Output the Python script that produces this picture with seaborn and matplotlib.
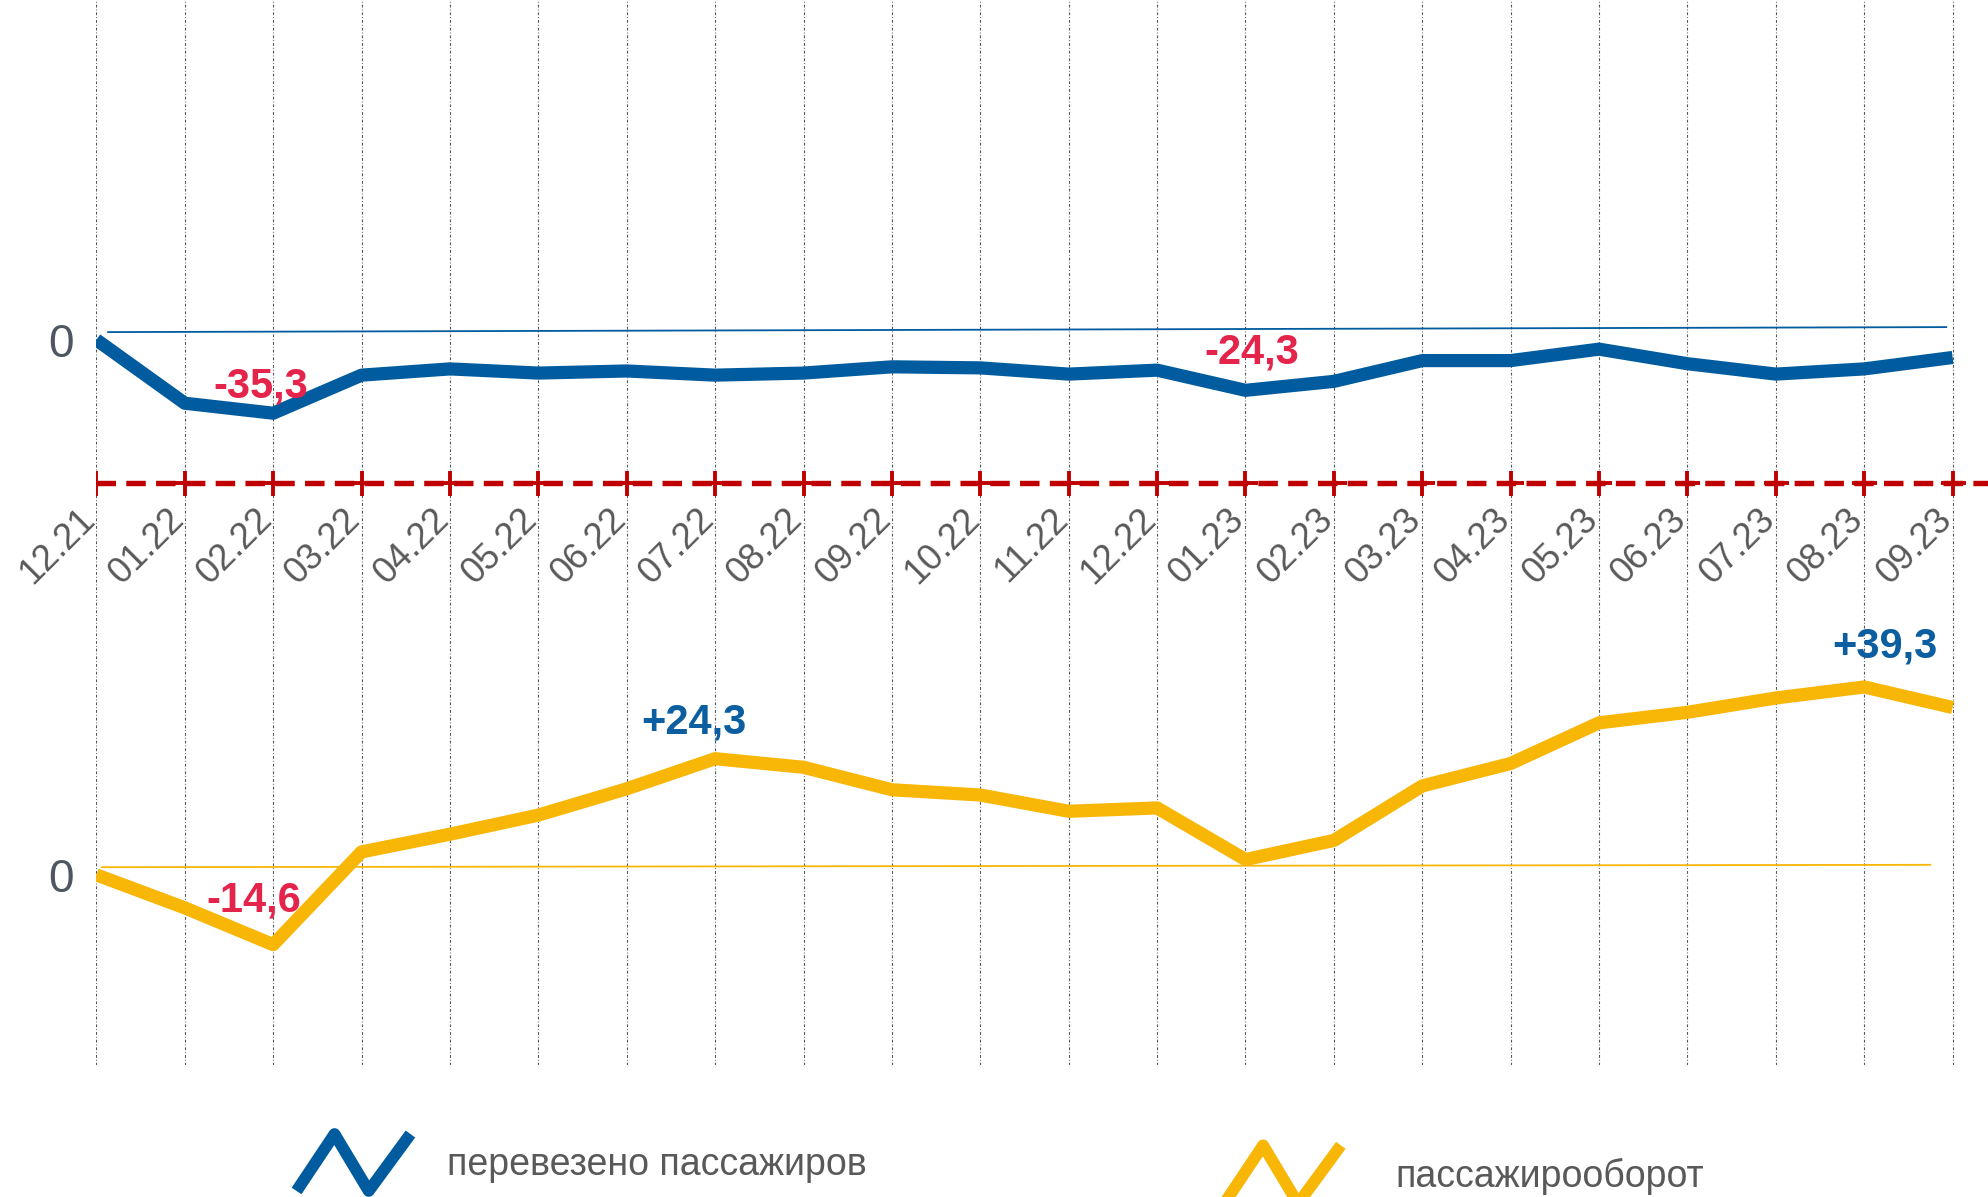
import numpy as np
import pandas as pd
import matplotlib.pyplot as plt
import seaborn as sns
from matplotlib.lines import Line2D
from matplotlib.path import Path

# данные
months = ['12.21', '01.22', '02.22', '03.22', '04.22', '05.22', '06.22', '07.22',
          '08.22', '09.22', '10.22', '11.22', '12.22', '01.23', '02.23', '03.23',
          '04.23', '05.23', '06.23', '07.23', '08.23', '09.23']
passengers = [0, -30.5, -35.3, -17, -14, -16, -15, -17, -16, -13, -13.5, -16.5,
              -14.6, -24.3, -20, -10, -10, -4.5, -11.5, -16.5, -14, -8.5]
turnover = [0, -6.9, -14.6, 4.8, 8.5, 12.5, 18, 24.3, 22.5, 17.8, 16.7, 13.3,
            14, 3.2, 7.2, 18.6, 23.3, 31.8, 34, 37, 39.3, 35]

# тонкие опорные линии (начало и конец)
pass_ref_x = [0.13, 20.93]
pass_ref_y = [3.7, 6.1]
turn_ref_x = [0.06, 20.75]
turn_ref_y = [1.6, 2.1]

divider_level = -69  # в единицах верхнего графика

# подписи: (индекс месяца, текст, цвет, смещение в пунктах)
pass_notes = [(2, '-35,3', 'red', (-9, 19)), (13, '-24,3', 'red', (4.5, 27))]
turn_notes = [(2, '-14,6', 'red', (-14, 32)), (7, '+24,3', 'blue', (-15, 26)),
              (20, '+39,3', 'blue', (15, 29))]

BLUE = '#005C9E'
YELLOW = '#F8B606'
RED_TXT = '#E5244B'
BLUE_TXT = '#0B5EA0'
GRAY = '#595959'
note_colors = {'red': RED_TXT, 'blue': BLUE_TXT}

sns.set_style('white')
plt.rcParams['font.family'] = ['Liberation Sans', 'DejaVu Sans']

df = pd.DataFrame({'x': np.arange(len(months)), 'month': months,
                   'passengers': passengers, 'turnover': turnover})

fig = plt.figure(figsize=(19.88, 11.97), dpi=100)
ax = fig.add_axes([76 / 1568, 1 - 840 / 944, 1 - 76 / 1568, 840 / 944])
ax2 = ax.twinx()

ax.set_xlim(0, 21.4)
ax.set_ylim(-348.8, 163.4)
ax2.set_ylim(-39.8, 183.0)

# вертикальная сетка
ax.set_xticks(df['x'])
ax.grid(axis='x', color='#555555', lw=0.8, ls=(0, (2.5, 1.8, 0.8, 1.8)))
ax.grid(axis='y', visible=False)
ax2.grid(False)
ax.tick_params(axis='x', length=0, labelbottom=False)

# нули
for a in (ax, ax2):
    a.set_yticks([0])
    a.set_yticklabels(['0'])
    a.yaxis.tick_left()
    a.tick_params(axis='y', length=0, pad=16, labelsize=33, labelcolor='#4D5661')
    for s in a.spines.values():
        s.set_visible(False)
ax2.tick_params(axis='y', labelleft=True, labelright=False)

# опорные линии
ax.plot(pass_ref_x, pass_ref_y, color=BLUE, lw=1.3)
ax2.plot(turn_ref_x, turn_ref_y, color=YELLOW, lw=1.3)

# основные линии
sns.lineplot(data=df, x='x', y='passengers', ax=ax, color=BLUE, lw=9.5,
             solid_joinstyle='round', solid_capstyle='butt', zorder=3)
sns.lineplot(data=df, x='x', y='turnover', ax=ax2, color=YELLOW, lw=9.5,
             solid_joinstyle='round', solid_capstyle='butt', zorder=3)
ax.set_xlabel('')
ax.set_ylabel('')
ax2.set_xlabel('')
ax2.set_ylabel('')

# красная пунктирная ось
ax.axhline(divider_level, color='#C00000', lw=3.9, ls=(0, (3.6, 1.9)), zorder=2)
ax.plot(df['x'], [divider_level] * len(df), ls='none', marker='+', ms=18,
        mew=2.8, color='#C00000', zorder=2)

# подписи месяцев
for i, m in enumerate(months):
    ax.text(i - 0.07, 0.517, m, transform=ax.get_xaxis_transform(), rotation=45,
            rotation_mode='anchor', ha='right', va='center', fontsize=26,
            color=GRAY)

# аннотации
for i, txt, c, off in pass_notes:
    ax.annotate(txt, (i, passengers[i]), xytext=off, textcoords='offset points',
                ha='center', va='center', fontsize=30, fontweight='bold',
                color=note_colors[c], zorder=5)
for i, txt, c, off in turn_notes:
    ax2.annotate(txt, (i, turnover[i]), xytext=off, textcoords='offset points',
                 ha='center', va='center', fontsize=30, fontweight='bold',
                 color=note_colors[c], zorder=5)

# легенда
zigzag = Path([(-1, -0.5), (-0.333, 0.5), (0.267, -0.5), (1, 0.5)],
              [Path.MOVETO, Path.LINETO, Path.LINETO, Path.LINETO])
legend_font = {'family': ['Liberation Sans'], 'size': 27}

h1 = Line2D([], [], ls='none', marker=zigzag, ms=82, mew=8.5, mfc='none', mec=BLUE)
h2 = Line2D([], [], ls='none', marker=zigzag, ms=84, mew=8.5, mfc='none', mec=YELLOW)
leg1 = fig.legend([h1], ['перевезено пассажиров'], loc='center left',
                  bbox_to_anchor=(233 / 1568, 1 - 919 / 944), frameon=False,
                  borderpad=0, borderaxespad=0, handlelength=3.05,
                  handletextpad=0.98, prop=legend_font, labelcolor=GRAY,
                  numpoints=1)
leg2 = fig.legend([h2], ['пассажирооборот'], loc='center left',
                  bbox_to_anchor=(965 / 1568, 1 - 928 / 944), frameon=False,
                  borderpad=0, borderaxespad=0, handlelength=3.12,
                  handletextpad=1.46, prop=legend_font, labelcolor=GRAY,
                  numpoints=1)

fig.savefig('out.png', dpi=100)
